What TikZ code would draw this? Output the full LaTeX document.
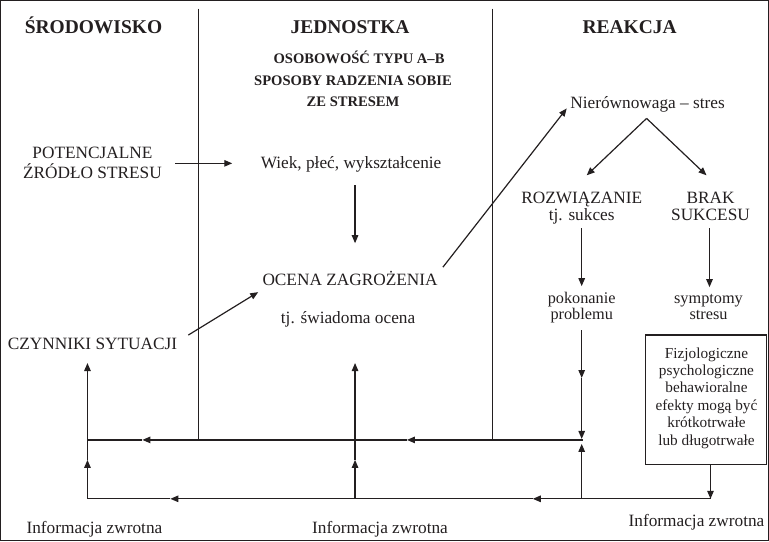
\documentclass[tikz,border=0pt]{standalone}
\usepackage{fontspec}
\setmainfont{Liberation Serif}
\usetikzlibrary{arrows.meta}
\definecolor{ink}{RGB}{35,31,32}
\begin{document}
\begin{tikzpicture}[x=1pt,y=-1pt,
  every path/.style={draw=ink},
  line width=1.2pt,
  arr/.style={-{Triangle[length=8pt,width=6.5pt]}},
  txt/.style={inner sep=0pt, anchor=base, text=ink, font=\fontsize{17.3}{20}\selectfont},
  hdr/.style={inner sep=0pt, anchor=base, text=ink, font=\bfseries\fontsize{19.5}{22}\selectfont},
  sub/.style={inner sep=0pt, anchor=base, text=ink, font=\bfseries\fontsize{14.6}{17}\selectfont},
  sml/.style={inner sep=0pt, anchor=base, text=ink, font=\fontsize{16.3}{18}\selectfont},
  bxt/.style={inner sep=0pt, anchor=base, text=ink, font=\fontsize{15.3}{17}\selectfont},
  effbox/.style={draw=ink, line width=1.2pt, inner sep=0pt, minimum width=121pt, minimum height=130pt},
]
\useasboundingbox (0,0) rectangle (769,541);

% headers
\node[hdr] (h1) at (93,33) {ŚRODOWISKO};
\node[hdr] (h2) at (350,33) {JEDNOSTKA};
\node[hdr] (h3) at (630,33) {REAKCJA};

\node[sub] (s1) at (359,63) {OSOBOWOŚĆ TYPU A–B};
\node[sub] (s2) at (353,85) {SPOSOBY RADZENIA SOBIE};
\node[sub] (s3) at (353,106) {ZE STRESEM};

% dividers
\coordinate (d1t) at (198,8); \coordinate (d1b) at (198,440);
\coordinate (d2t) at (493,8); \coordinate (d2b) at (493,440);
\draw (d1t) -- (d1b);
\draw (d2t) -- (d2b);

% left column texts
\node[txt] (pot1) at (92,158) {POTENCJALNE};
\node[txt] (pot2) at (92,178) {ŹRÓDŁO STRESU};
\node[txt] (czyn) at (92,349) {CZYNNIKI SYTUACJI};

% middle column texts
\node[txt] (wiek) at (351,168) {Wiek, płeć, wykształcenie};
\node[txt] (ocena) at (350,285) {OCENA ZAGROŻENIA};
\node[txt] (swiad) at (348,323) {tj. świadoma ocena};

% right column texts
\node[txt] (nier) at (648,108) {Nierównowaga – stres};
\node[txt] (roz1) at (582,203) {ROZWIĄZANIE};
\node[txt] (roz2) at (582,220) {tj. sukces};
\node[txt] (brak1) at (711,203) {BRAK};
\node[txt] (brak2) at (711,220) {SUKCESU};
\node[sml] (pok1) at (582,303) {pokonanie};
\node[sml] (pok2) at (582,319) {problemu};
\node[sml] (sym1) at (709,303) {symptomy};
\node[sml] (sym2) at (709,319) {stresu};

% effects box
\node[effbox] (box) at (706.5,400) {};
\node[bxt] (e1) at (707,358) {Fizjologiczne};
\node[bxt] (e2) at (707,375.5) {psychologiczne};
\node[bxt] (e3) at (707,393) {behawioralne};
\node[bxt] (e4) at (707,410.5) {efekty mogą być};
\node[bxt] (e5) at (707,428) {krótkotrwałe};
\node[bxt] (e6) at (707,445.5) {lub długotrwałe};

% feedback labels
\node[txt] (fb1) at (94,534) {Informacja zwrotna};
\node[txt] (fb2) at (380,534) {Informacja zwrotna};
\node[txt] (fb3) at (697,527) {Informacja zwrotna};

% arrow end points
\coordinate (potR) at (175,163);  \coordinate (wiekL) at (232,163);
\coordinate (wiekB) at (355,185); \coordinate (ocT) at (355,243);
\coordinate (czR) at (188,335);   \coordinate (ocL) at (258,292);
\coordinate (ocR) at (443,267);   \coordinate (nierL) at (567,108);
\coordinate (apex) at (647,118);
\coordinate (rozT) at (587,175);  \coordinate (brakT) at (707,175);
\coordinate (rozB) at (582,228);  \coordinate (pokT) at (582,286);
\coordinate (brakB) at (710,228); \coordinate (symT) at (710,287);

\draw[arr] (potR) -- (wiekL);
\draw[arr] (wiekB) -- (ocT);
\draw[arr] (czR) -- (ocL);
\draw[arr] (ocR) -- (nierL);
\draw[arr] (apex) -- (rozT);
\draw[arr] (apex) -- (brakT);
\draw[arr] (rozB) -- (pokT);
\draw[arr] (brakB) -- (symT);

% feedback network
\coordinate (L1) at (87,440);  \coordinate (L2) at (87,499);
\coordinate (M1) at (355,440); \coordinate (M2) at (355,499);
\coordinate (R1) at (582,440); \coordinate (R2) at (582,499);
\coordinate (B2) at (711,499);
\coordinate (Lm) at (87,460);  \coordinate (czB) at (87,363);
\coordinate (Mm) at (355,460); \coordinate (swB) at (355,363);
\coordinate (pokB) at (582,330); \coordinate (Rm) at (582,378);
\coordinate (Rin) at (582,439); \coordinate (Rup) at (582,444);
\coordinate (upA) at (407,440); \coordinate (upB) at (142,440);
\coordinate (loA) at (533,499); \coordinate (loB) at (170,499);
\coordinate (Lstart) at (88,440);

% from box down to lower line
\draw[arr] (box.south -| B2) -- (B2);
% lower line
\draw[arr] (B2) -- (loA);
\draw[arr] (loA) -- (loB);
\draw (loB) -- (L2);
% upper line
\draw (R1) -- ([xshift=1pt]R1);
\draw[arr] (R1) -- (upA);
\draw[arr] (upA) -- (upB);
\draw (upB) -- (Lstart);
% left vertical
\draw[arr] (L2) -- (Lm);
\draw[arr] (Lm) -- (czB);
% middle vertical
\draw[arr] (M2) -- (Mm);
\draw[arr] (Mm) -- (swB);
% right vertical
\draw[arr] (pokB) -- (Rm);
\draw[arr] (Rm) -- (Rin);
\draw[arr] (R2) -- (Rup);
\end{tikzpicture}
\end{document}
